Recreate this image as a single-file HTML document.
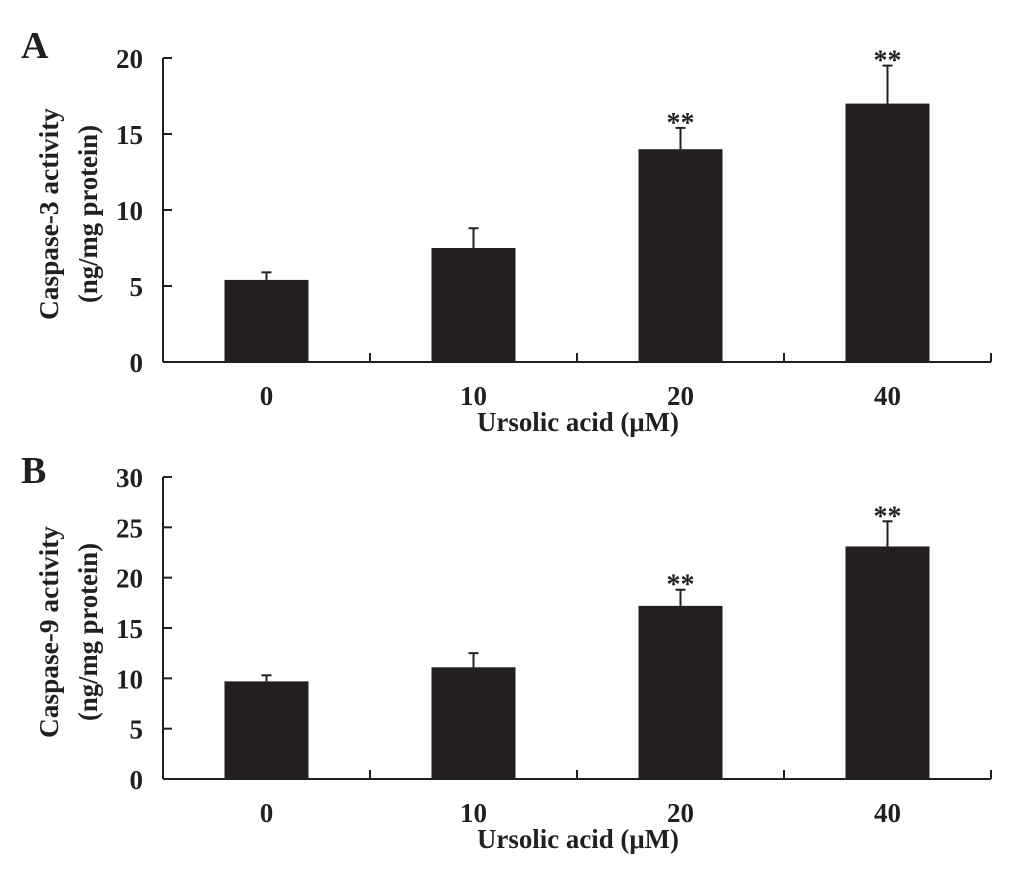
<!DOCTYPE html>
<html><head><meta charset="utf-8"><style>
body{margin:0;background:#fff}
svg text{font-family:"Liberation Serif",serif;font-weight:bold;fill:#231f20}
</style></head><body>
<svg id="chart" width="1033" height="865" xmlns="http://www.w3.org/2000/svg"></svg>
<script>
const categories=["0","10","20","40"];
const casp3Values=[5.4,7.5,14.0,17.0];
const casp3Errors=[5.9,8.8,15.4,19.5];
const casp3Stars=["","","**","**"];
const casp9Values=[9.7,11.1,17.2,23.1];
const casp9Errors=[10.3,12.5,18.8,25.6];
const casp9Stars=["","","**","**"];
const ticks3=[0,5,10,15,20];
const ticks9=[0,5,10,15,20,25,30];
const NS="http://www.w3.org/2000/svg";
const svg=document.getElementById('chart');
function mk(tag,attrs,parent){const e=document.createElementNS(NS,tag);for(const k in attrs)e.setAttribute(k,attrs[k]);(parent||svg).appendChild(e);return e;}
function panel(opt){
  const g=mk('g',{});
  
  
  const x0=163,x1=991,y0=opt.y0,y1=opt.y1,max=opt.max;
  const ys=v=>y0-(v/max)*(y0-y1);
  const band=(x1-x0)/categories.length;
  const xc=i=>x0+band*(i+0.5);
  const lt=mk('text',{x:21,y:opt.letterY,'font-size':38},g);lt.textContent=opt.letter;
  
  
  const ya=mk('line',{x1:x0,y1:y1,x2:x0,y2:y0,stroke:'#231f20','stroke-width':2},g);
  
  
  opt.ticks.forEach(t=>{
    mk('line',{x1:x0,y1:ys(t),x2:x0+9,y2:ys(t),stroke:'#231f20','stroke-width':2},g);
    const tx=mk('text',{x:143,y:ys(t)+10,'font-size':27,'text-anchor':'end'},g);tx.textContent=t;
    
    
  });
  const xa=mk('line',{x1:x0,y1:y0,x2:x1,y2:y0,stroke:'#231f20','stroke-width':2},g);
  
  
  for(let i=1;i<=categories.length;i++){mk('line',{x1:x0+band*i,y1:y0,x2:x0+band*i,y2:y0-9,stroke:'#231f20','stroke-width':2},g);}
  categories.forEach((c,i)=>{
    const v=opt.values[i],e=opt.errors[i];
    const b=mk('rect',{x:xc(i)-42,y:ys(v),width:84,height:y0-ys(v),fill:'#231f20'},g);
    
    
    const el=mk('line',{x1:xc(i),y1:ys(v),x2:xc(i),y2:ys(e),stroke:'#231f20','stroke-width':2},g);
    
    
    mk('line',{x1:xc(i)-5,y1:ys(e),x2:xc(i)+5,y2:ys(e),stroke:'#231f20','stroke-width':2},g);
    if(opt.stars[i]){const s=mk('text',{x:xc(i),y:ys(e)+4,'font-size':28,'text-anchor':'middle','font-weight':'normal'},g);s.textContent=opt.stars[i];
      
      }
    const l=mk('text',{x:xc(i),y:y0+43,'font-size':27,'text-anchor':'middle'},g);l.textContent=c;
    
    
  });
  const xt=mk('text',{x:578,y:y0+69,'font-size':27,'text-anchor':'middle',textLength:202,lengthAdjust:'spacingAndGlyphs'},g);xt.textContent='Ursolic acid (\u03bcM)';
  
  
  const yc=(y0+y1)/2+4;
  const yt=mk('text',{transform:`translate(58,${yc}) rotate(-90)`,'font-size':27,'text-anchor':'middle',textLength:212,lengthAdjust:'spacingAndGlyphs'},g);yt.textContent=opt.ytitle;
  
  
  const yt2=mk('text',{transform:`translate(97,${yc}) rotate(-90)`,'font-size':27,'text-anchor':'middle',textLength:178,lengthAdjust:'spacingAndGlyphs'},g);yt2.textContent='(ng/mg protein)';
  
  
}
panel({name:'panel-a-caspase-3',letter:'A',letterY:58,y0:362,y1:58,max:20,ticks:ticks3,values:casp3Values,errors:casp3Errors,stars:casp3Stars,ytitle:'Caspase-3 activity'});
panel({name:'panel-b-caspase-9',letter:'B',letterY:483,y0:779,y1:477,max:30,ticks:ticks9,values:casp9Values,errors:casp9Errors,stars:casp9Stars,ytitle:'Caspase-9 activity'});
</script>
</body></html>
